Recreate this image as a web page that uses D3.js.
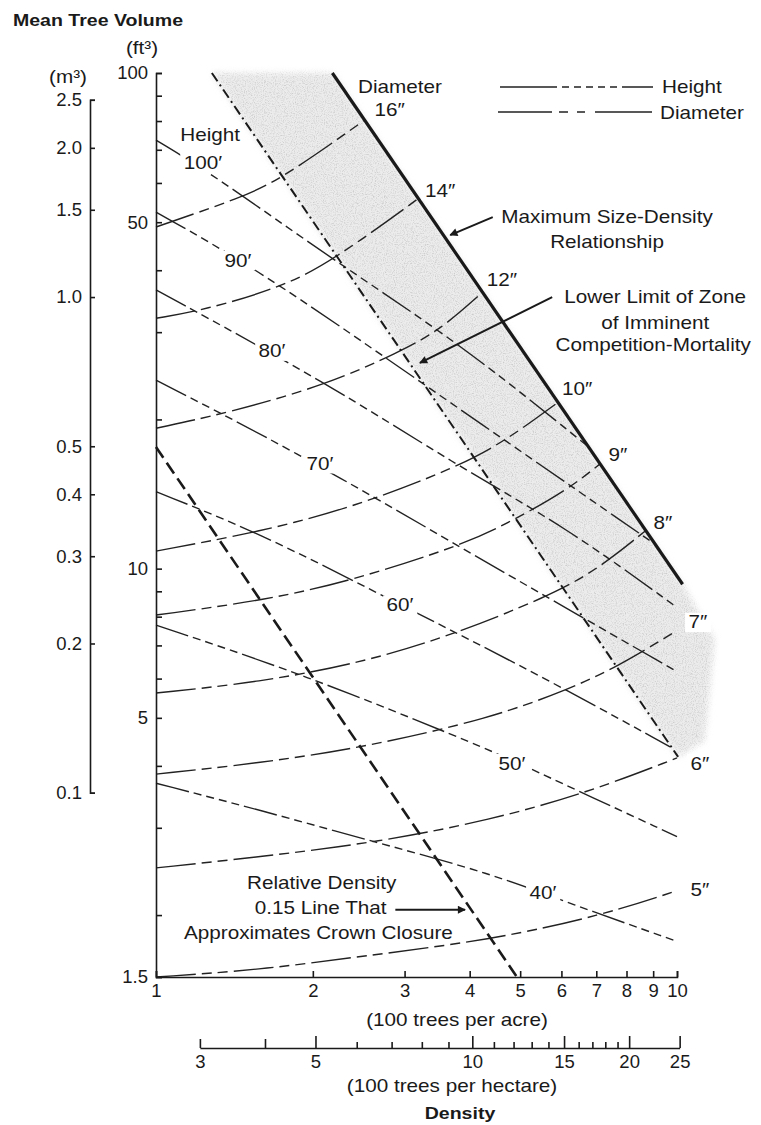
<!DOCTYPE html>
<html>
<head>
<meta charset="utf-8">
<script src="https://cdn.jsdelivr.net/npm/d3@7"></script>
<style>
  body { margin: 0; background: #fff; }
  svg { display: block; font-family: "Liberation Sans", Arial, Helvetica, sans-serif; }
  .axis path, .axis line { stroke: #1a1a1a; stroke-width: 1.6; }
  .axis text { font-size: 18.5px; fill: #1a1a1a; font-family: "Liberation Sans", Arial, sans-serif; }
  .lbl { font-size: 18px; fill: #1a1a1a; }
  .bold { font-size: 17px; font-weight: bold; fill: #1a1a1a; }
  .height-line { fill: none; stroke: #222; stroke-width: 1.4; stroke-dasharray: 34 5 8 5 8 5 8 5 8 5; }
  .diam-line { fill: none; stroke: #222; stroke-width: 1.4; stroke-dasharray: 40 6 10 6 10 6; }
</style>
</head>
<body>
<div id="chart"></div>
<script>
// x = density (100 trees per acre), y = mean tree volume (ft3)

// special lines
var maxSDR = [[2.18, 100], [10.25, 9.3]];
var lowerLimit = [[1.28, 100], [10.05, 4.17]];
var crownClosure = [[1, 17.6], [4.93, 1.5]];
var zoneTail = [[11.3, 4.5], [11.8, 7.2]];

// height isolines
var height100 = [[1, 73.2], [1.29, 62.3], [2.19, 41.9], [3.83, 28.5], [6.72, 17.7]];
var height90 = [[1, 52.4], [1.58, 40], [3.11, 24.4], [9.08, 11.2]];
var height80 = [[1, 36.5], [2.13, 23.7], [3.72, 16.3], [6.15, 12.1], [10, 8.35]];
var height70 = [[1, 24], [1.83, 17.35], [3.72, 11.26], [5.63, 8.76], [10, 6.2]];
var height60 = [[1, 14.3], [1.58, 11.8], [2.66, 8.93], [4.01, 7.18], [6.15, 5.69], [9.7, 4.37]];
var height50 = [[1, 7.69], [1.89, 6.16], [4.38, 4.31], [5.39, 3.89], [10, 2.88]];
var height40 = [[1, 3.69], [1.58, 3.26], [2.69, 2.79], [4.38, 2.43], [6.23, 2.11], [10, 1.77]];

// diameter isolines
var diam16 = [[1, 48.9], [1.47, 56.2], [1.75, 61.4], [2.5, 80]];
var diam14 = [[1, 32], [1.23, 33.2], [1.75, 37], [2.19, 41.9], [3.18, 55.7]];
var diam12 = [[1, 19.2], [1.37, 20.6], [2.13, 23.5], [2.94, 27.4], [3.51, 30.3], [4.22, 36]];
var diam10 = [[1, 10.85], [1.58, 11.86], [2.39, 13.3], [3.78, 16], [4.72, 18.2], [5.89, 21.6]];
var diam9 = [[1, 8.06], [1.63, 8.64], [2.39, 9.48], [3.88, 11.16], [4.84, 12.5], [6.15, 14.4], [7.11, 16.25]];
var diam8 = [[1, 5.61], [1.58, 5.9], [2.46, 6.45], [3.62, 7.28], [5.63, 8.76], [7.02, 9.94], [8.68, 11.9]];
var diam7 = [[1, 3.85], [1.58, 4.05], [2.54, 4.37], [4.38, 4.99], [6.15, 5.69], [7.67, 6.33], [10, 7.5]];
var diam6 = [[1, 2.49], [1.58, 2.62], [2.69, 2.81], [4.38, 3.11], [6.72, 3.53], [10, 4.15]];
var diam5 = [[1, 1.5], [1.58, 1.55], [2.46, 1.65], [4.38, 1.78], [7.21, 2.0], [10, 2.24]];

// labels [text, density, volume]
var heightLabels = [['Height', 1.27, 75], ['100′', 1.23, 65.8], ['90′', 1.437, 41.9], ['80′', 1.67, 27.5],
    ['70′', 2.064, 16.3], ['60′', 2.94, 8.45], ['50′', 4.82, 4.05], ['40′', 5.53, 2.22]];
var diameterLabels = [['Diameter', 2.94, 93.7], ['16″', 2.81, 84.2], ['14″', 3.51, 58], ['12″', 4.61, 38.2],
    ['10″', 6.43, 23.1], ['9″', 7.7, 16.95], ['8″', 9.4, 12.36], ['7″', 10.97, 7.8], ['6″', 11.07, 4.05], ['5″', 11.07, 2.25]];
var noteLines = [['Maximum Size-Density', 7.34, 51.2], ['Relationship', 7.34, 45.6],
    ['Lower Limit of Zone', 9.08, 35.3], ['of Imminent', 9.08, 31.4], ['Competition-Mortality', 9.0, 28.3],
    ['Relative Density', 2.08, 2.32], ['0.15 Line That', 2.07, 2.07], ['Approximates Crown Closure', 2.05, 1.84]];
var noteArrows = [[[4.43, 51.2], [3.67, 47.1]], [[5.76, 35.3], [3.21, 26.0]], [[2.88, 2.05], [3.92, 2.05]]];

// ticks
var ftTicks = [1.5, 2, 3, 4, 5, 6, 7, 8, 9, 10, 20, 30, 40, 50, 60, 70, 80, 90, 100];
var ftLabels = [1.5, 5, 10, 50, 100];
var m3Ticks = [0.1, 0.2, 0.3, 0.4, 0.5, 1.0, 1.5, 2.0, 2.5];
var acreTicks = [1, 2, 3, 4, 5, 6, 7, 8, 9, 10];
var haTicks = [3, 4, 5, 6, 7, 8, 9, 10, 11, 12, 13, 14, 15, 16, 17, 18, 19, 20, 25];
var haLabels = [3, 5, 10, 15, 20, 25];

var FT3_PER_M3 = 35.3147;
var HA_PER_ACRE = 2.471;

var svg = d3.select('#chart').append('svg')
    .attr('width', 761)
    .attr('height', 1125);

var x = d3.scaleLog().domain([1, 10]).range([156, 677]);
var y = d3.scaleLog().domain([1.5, 100]).range([977, 73]);

var defs = svg.append('defs');
defs.append('marker')
    .attr('id', 'arrow')
    .attr('viewBox', '0 0 10 10')
    .attr('refX', 9).attr('refY', 5)
    .attr('markerUnits', 'userSpaceOnUse')
    .attr('markerWidth', 13).attr('markerHeight', 8)
    .attr('orient', 'auto')
    .append('path')
    .attr('d', 'M0,0L10,5L0,10z')
    .attr('fill', '#1a1a1a');

// grainy grey fill for the competition zone
var f = defs.append('filter').attr('id', 'stipple')
    .attr('x', -0.05).attr('y', -0.05).attr('width', 1.1).attr('height', 1.1);
f.append('feGaussianBlur').attr('in', 'SourceGraphic').attr('stdDeviation', 3).attr('result', 'soft');
f.append('feTurbulence').attr('type', 'fractalNoise').attr('baseFrequency', 0.9)
    .attr('numOctaves', 2).attr('seed', 4).attr('result', 'noise');
f.append('feColorMatrix').attr('in', 'noise').attr('type', 'matrix')
    .attr('values', '0 0 0 0 0.6  0 0 0 0 0.6  0 0 0 0 0.6  0 0 0 2.4 -1.05')
    .attr('result', 'dots');
f.append('feComposite').attr('in', 'dots').attr('in2', 'soft').attr('operator', 'in').attr('result', 'grain');
var merge = f.append('feMerge');
merge.append('feMergeNode').attr('in', 'soft');
merge.append('feMergeNode').attr('in', 'grain');

var line = d3.line()
    .x(function (d) { return x(d[0]); })
    .y(function (d) { return y(d[1]); });
var smooth = d3.line()
    .x(function (d) { return x(d[0]); })
    .y(function (d) { return y(d[1]); })
    .curve(d3.curveBasis);

// text slightly stretched, optionally on a white patch that breaks the line under it
function label(sel, str, px, py, anchor, cls, boxed) {
    var g = sel.append('g')
        .attr('transform', 'translate(' + px + ',' + py + ') scale(1.15,1)');
    var t = g.append('text')
        .attr('class', cls || 'lbl')
        .attr('text-anchor', anchor || 'middle')
        .attr('dy', '0.35em')
        .text(str);
    if (boxed) {
        var b = t.node().getBBox();
        g.insert('rect', 'text')
            .attr('x', b.x - 3).attr('y', b.y + 1)
            .attr('width', b.width + 6).attr('height', b.height - 1)
            .attr('fill', '#fff');
    }
    return g;
}

// shaded zone between lower limit and maximum size-density
var zone = lowerLimit.concat(zoneTail, maxSDR.slice().reverse());
svg.append('path')
    .attr('d', line(zone) + 'Z')
    .attr('fill', '#ececec')
    .attr('filter', 'url(#stipple)');

// isolines
svg.selectAll('.height-line')
    .data([height100, height90, height80, height70, height60, height50, height40])
    .enter().append('path')
    .attr('class', 'height-line')
    .attr('d', smooth);

svg.selectAll('.diam-line')
    .data([diam16, diam14, diam12, diam10, diam9, diam8, diam7, diam6, diam5])
    .enter().append('path')
    .attr('class', 'diam-line')
    .attr('d', smooth);

svg.append('path')
    .attr('d', line(lowerLimit))
    .attr('fill', 'none').attr('stroke', '#1a1a1a').attr('stroke-width', 2)
    .attr('stroke-dasharray', '10 4 2 4');

svg.append('path')
    .attr('d', line(crownClosure))
    .attr('fill', 'none').attr('stroke', '#1a1a1a').attr('stroke-width', 2.6)
    .attr('stroke-dasharray', '13 6');

svg.append('path')
    .attr('d', line(maxSDR))
    .attr('fill', 'none').attr('stroke', '#1a1a1a').attr('stroke-width', 3.2);

// axes
svg.append('g')
    .attr('class', 'axis')
    .attr('transform', 'translate(156,0)')
    .call(d3.axisLeft(y).tickValues(ftTicks)
        .tickFormat(function (d) { return ftLabels.indexOf(d) >= 0 ? d : ''; })
        .tickSizeInner(-6).tickSizeOuter(-6).tickPadding(8));

var yM = d3.scaleLog().domain([0.1, 2.5]).range([y(0.1 * FT3_PER_M3), y(2.5 * FT3_PER_M3)]);
svg.append('g')
    .attr('class', 'axis')
    .attr('transform', 'translate(90,0)')
    .call(d3.axisLeft(yM).tickValues(m3Ticks).tickFormat(d3.format('.1f'))
        .tickSizeInner(-5).tickSizeOuter(-5).tickPadding(8));

svg.append('g')
    .attr('class', 'axis')
    .attr('transform', 'translate(0,977)')
    .call(d3.axisBottom(x).tickValues(acreTicks).tickFormat(d3.format('d'))
        .tickSizeInner(-6).tickSizeOuter(-6).tickPadding(7));

var xHa = d3.scaleLog().domain([3, 25]).range([x(3 / HA_PER_ACRE), x(25 / HA_PER_ACRE)]);
var haAxis = svg.append('g')
    .attr('class', 'axis')
    .attr('transform', 'translate(0,1048)')
    .call(d3.axisBottom(xHa).tickValues(haTicks)
        .tickFormat(function (d) { return haLabels.indexOf(d) >= 0 ? d : ''; })
        .tickSizeInner(-6).tickSizeOuter(0).tickPadding(7));
haAxis.selectAll('.tick line')
    .attr('y2', function (d) { return d % 5 === 0 ? -12 : (d < 5 ? -9 : -6); });

// axis titles
label(svg, 'Mean Tree Volume', 13, 20, 'start', 'bold');
label(svg, '(ft³)', 142, 48);
label(svg, '(m³)', 68, 77);
label(svg, '(100 trees per acre)', 457, 1020);
label(svg, '(100 trees per hectare)', 452, 1086);
label(svg, 'Density', 460, 1113, 'middle', 'bold');

// line labels
heightLabels.concat(diameterLabels).forEach(function (d) {
    label(svg, d[0], x(d[1]), y(d[2]), 'middle', 'lbl', true);
});
noteLines.forEach(function (d) {
    label(svg, d[0], x(d[1]), y(d[2]), 'middle', 'lbl');
});

noteArrows.forEach(function (d) {
    svg.append('path')
        .attr('d', line(d))
        .attr('stroke', '#1a1a1a').attr('stroke-width', 2)
        .attr('marker-end', 'url(#arrow)');
});

// legend
var legend = svg.append('g');
legend.append('line')
    .attr('x1', 500).attr('x2', 653).attr('y1', 87).attr('y2', 87)
    .attr('stroke', '#222').attr('stroke-width', 1.4)
    .attr('stroke-dasharray', '57 5 7 5 7 5 7 5 7 5 7 5 40');
legend.append('line')
    .attr('x1', 498).attr('x2', 652).attr('y1', 112).attr('y2', 112)
    .attr('stroke', '#222').attr('stroke-width', 1.4)
    .attr('stroke-dasharray', '54 7 9 9 8 10 60');
label(legend, 'Height', 662, 87, 'start');
label(legend, 'Diameter', 660, 113, 'start');
</script>
</body>
</html>
